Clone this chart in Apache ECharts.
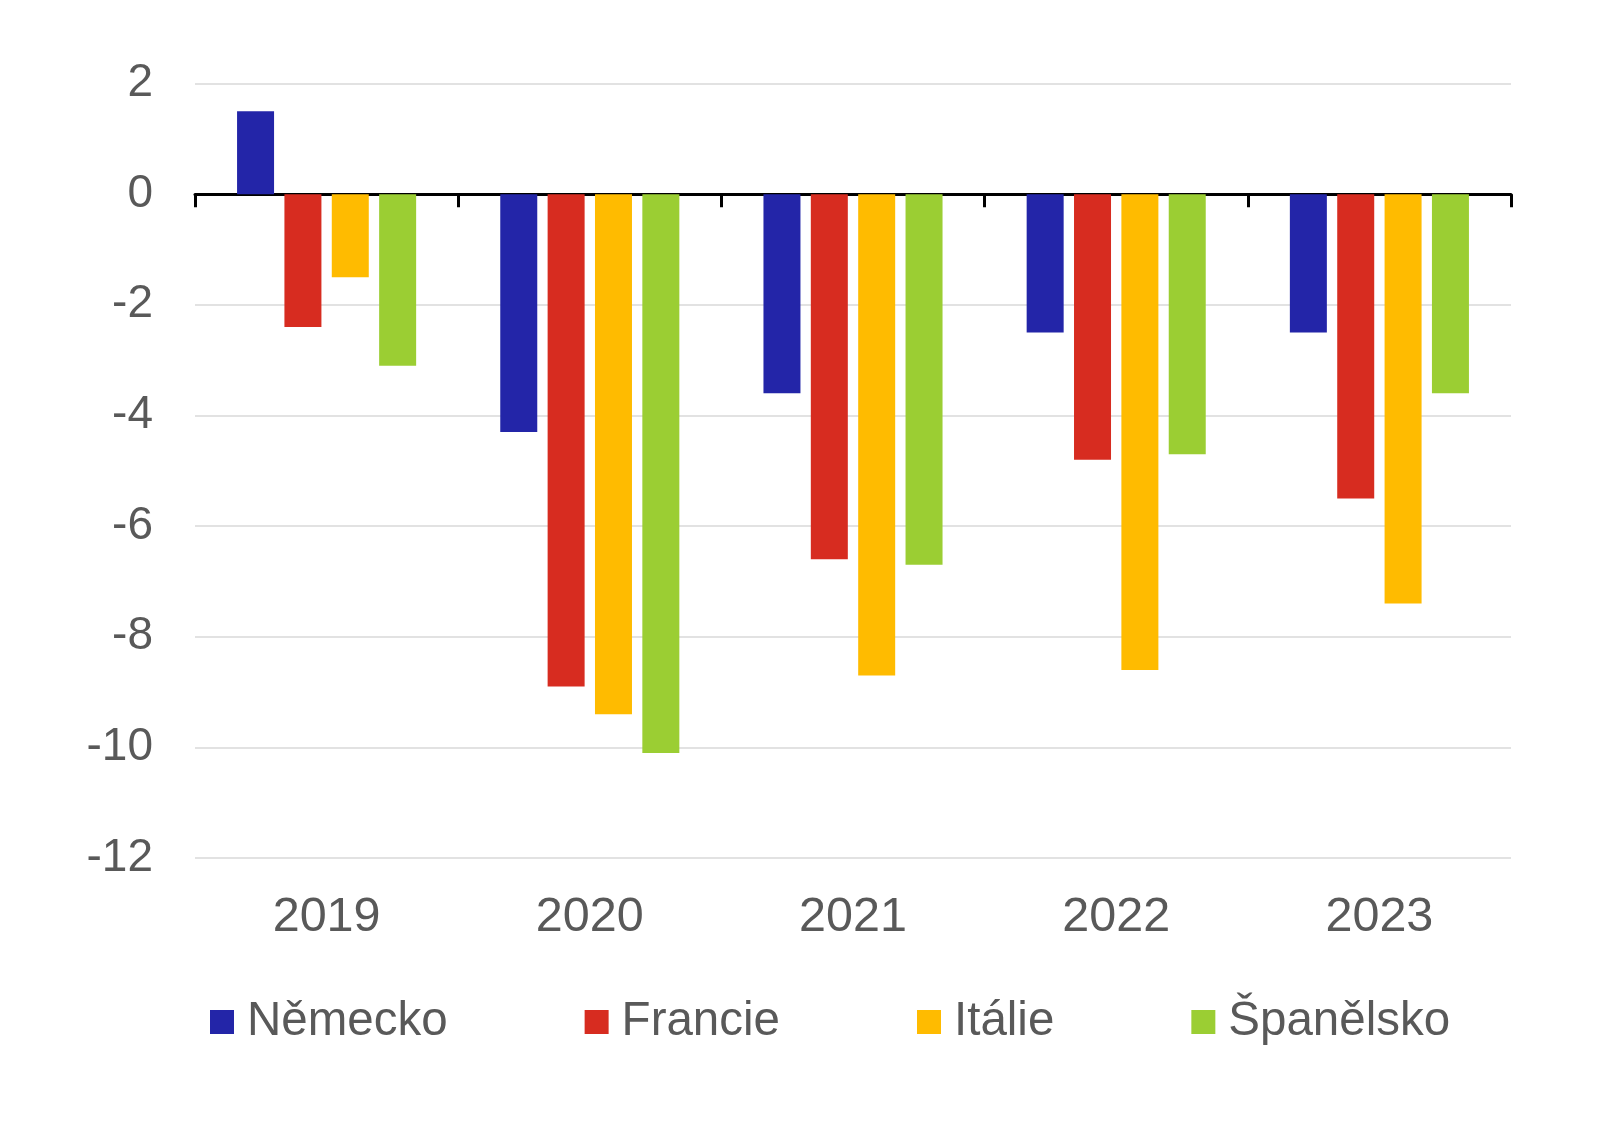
<!DOCTYPE html>
<html>
<head>
<meta charset="utf-8">
<script src="https://cdn.jsdelivr.net/npm/echarts@6/dist/echarts.min.js"></script>
<style>
html,body{margin:0;padding:0;background:#fff;}
#chart{width:1617px;height:1125px;}
</style>
</head>
<body>
<div id="chart"></div>
<script>
const years = ['2019', '2020', '2021', '2022', '2023'];
const seriesNames = ['Německo', 'Francie', 'Itálie', 'Španělsko'];
const nemecko = [1.5, -4.3, -3.6, -2.5, -2.5];
const francie = [-2.4, -8.9, -6.6, -4.8, -5.5];
const italie = [-1.5, -9.4, -8.7, -8.6, -7.4];
const spanelsko = [-3.1, -10.1, -6.7, -4.7, -3.6];
const colors = ['#2325A8', '#D72C20', '#FFBB00', '#9BCE33'];
const yMin = -12, yMax = 2, yStep = 2;

const font = '"Liberation Sans", Arial, sans-serif';
const textColor = '#595959';
const values = [nemecko, francie, italie, spanelsko];

const chart = echarts.init(document.getElementById('chart'), null, {renderer: 'canvas'});
chart.setOption({
  backgroundColor: '#ffffff',
  animation: false,
  textStyle: {fontFamily: font},
  grid: {left: 195, right: 106, top: 83.5, bottom: 267, containLabel: false},
  legend: {
    left: 210, top: 998, itemWidth: 24, itemHeight: 24, itemGap: 137, padding: 0,
    icon: 'rect',
    data: seriesNames,
    textStyle: {fontFamily: font, fontSize: 47.5, color: textColor, padding: [0, 0, 0, 8]}
  },
  xAxis: [
    {
      type: 'category', data: years, position: 'bottom',
      axisLine: {show: false, onZero: false},
      axisTick: {show: false},
      axisLabel: {color: textColor, fontSize: 48.5, fontFamily: font, margin: 36, lineHeight: 48}
    },
    {
      type: 'category', data: years, position: 'top',
      axisLine: {show: true, onZero: true, lineStyle: {color: '#000', width: 3}},
      axisTick: {show: true, inside: true, length: 13, lineStyle: {color: '#000', width: 3}},
      axisLabel: {show: false},
      splitLine: {show: false}
    }
  ],
  yAxis: {
    type: 'value', min: yMin, max: yMax, interval: yStep,
    axisLine: {show: false}, axisTick: {show: false},
    axisLabel: {color: textColor, fontSize: 46, fontFamily: font, margin: 42},
    splitLine: {lineStyle: {color: '#D9D9D9', width: 1.5}}
  },
  series: seriesNames.map((n, i) => ({
    name: n, type: 'bar', xAxisIndex: 0, data: values[i],
    barWidth: 37, barGap: '28%',
    itemStyle: {color: colors[i]}
  }))
});
</script>
</body>
</html>
